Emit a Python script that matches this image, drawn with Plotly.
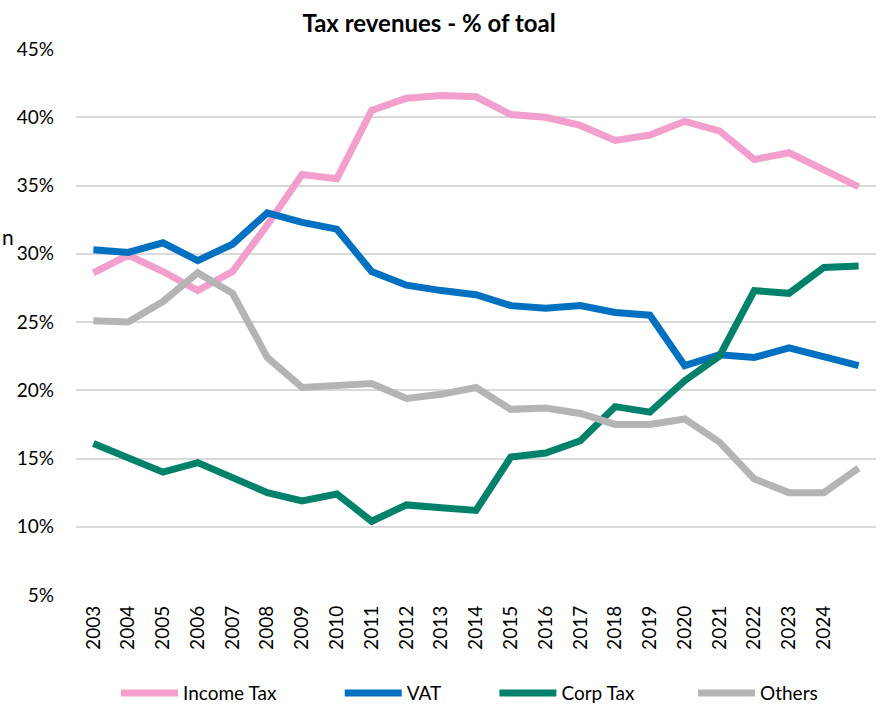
import plotly.graph_objects as go

years = list(range(2003, 2026))
tick_years = list(range(2003, 2025))
tick_labels = [str(y) for y in tick_years]

income_tax = [28.6, 29.9, 28.7, 27.3, 28.7, 32.1, 35.8, 35.5, 40.5, 41.4, 41.6, 41.5,
              40.2, 40.0, 39.4, 38.3, 38.7, 39.7, 39.0, 36.9, 37.4, 36.1, 34.9]
vat = [30.3, 30.1, 30.8, 29.5, 30.7, 33.0, 32.3, 31.8, 28.7, 27.7, 27.3, 27.0,
       26.2, 26.0, 26.2, 25.7, 25.5, 21.8, 22.6, 22.4, 23.1, 22.5, 21.8]
corp_tax = [16.1, 15.1, 14.0, 14.7, 13.6, 12.5, 11.9, 12.4, 10.4, 11.6, 11.4, 11.2,
            15.1, 15.4, 16.3, 18.8, 18.4, 20.7, 22.5, 27.3, 27.1, 29.0, 29.1]
others = [25.1, 25.0, 26.5, 28.6, 27.1, 22.4, 20.2, 20.4, 20.5, 19.4, 19.7, 20.2,
          18.6, 18.7, 18.3, 17.5, 17.5, 17.9, 16.2, 13.5, 12.5, 12.5, 14.3]

series_names = ["Income Tax", "VAT", "Corp Tax", "Others"]
series_values = [income_tax, vat, corp_tax, others]
series_colors = ["#F29FCE", "#0070C0", "#00826A", "#B4B4B4"]
legend_pad = [12, 10, 11, 0]  # non-breaking spaces to spread legend entries like the original

FONT = "Lato, Open Sans, sans-serif"
FS = 19
NBSP = "\u00a0"

fig = go.Figure()
for name, vals, color, pad in zip(series_names, series_values, series_colors, legend_pad):
    fig.add_trace(go.Scatter(
        x=years, y=[v / 100 for v in vals], name=name + NBSP * pad, mode="lines",
        line=dict(color=color, width=7),
    ))

fig.update_layout(
    width=881, height=705,
    paper_bgcolor="white", plot_bgcolor="white",
    margin=dict(l=76, r=5, t=49, b=110, autoexpand=False),
    font=dict(family=FONT, size=FS, color="#000000"),
    title=dict(text="<b>Tax revenues - % of toal</b>", x=0.487, xanchor="center",
               y=0.979, yanchor="top", font=dict(size=24, family=FONT, color="#000000")),
    xaxis=dict(
        range=[2002.5, 2025.5], tickmode="array", tickvals=tick_years, ticktext=tick_labels,
        tickangle=-90, showgrid=False, zeroline=False, showline=False, ticks="",
        tickfont=dict(size=FS), ticklabelstandoff=6, automargin=False,
    ),
    yaxis=dict(
        range=[0.05, 0.45], tickmode="array",
        tickvals=[0.05, 0.10, 0.15, 0.20, 0.25, 0.30, 0.35, 0.40, 0.45],
        tickformat=".0%", showgrid=True, gridcolor="#D9D9D9", gridwidth=1.5,
        zeroline=False, showline=False, ticks="", tickfont=dict(size=FS),
        ticklabelstandoff=21, automargin=False,
    ),
    legend=dict(
        orientation="h", x=(116 - 76) / 800, xanchor="left", y=-0.145, yanchor="top",
        itemwidth=57, font=dict(size=FS), traceorder="normal",
    ),
    annotations=[dict(text="n", xref="paper", yref="paper", x=-76 / 800, y=(595 - 236) / 546,
                      xanchor="left", yanchor="middle", showarrow=False,
                      font=dict(size=21, family=FONT))],
)

fig.write_html("out.html", config={"displayModeBar": False},
               post_script="document.body.style.margin='0';document.body.style.padding='0';")
